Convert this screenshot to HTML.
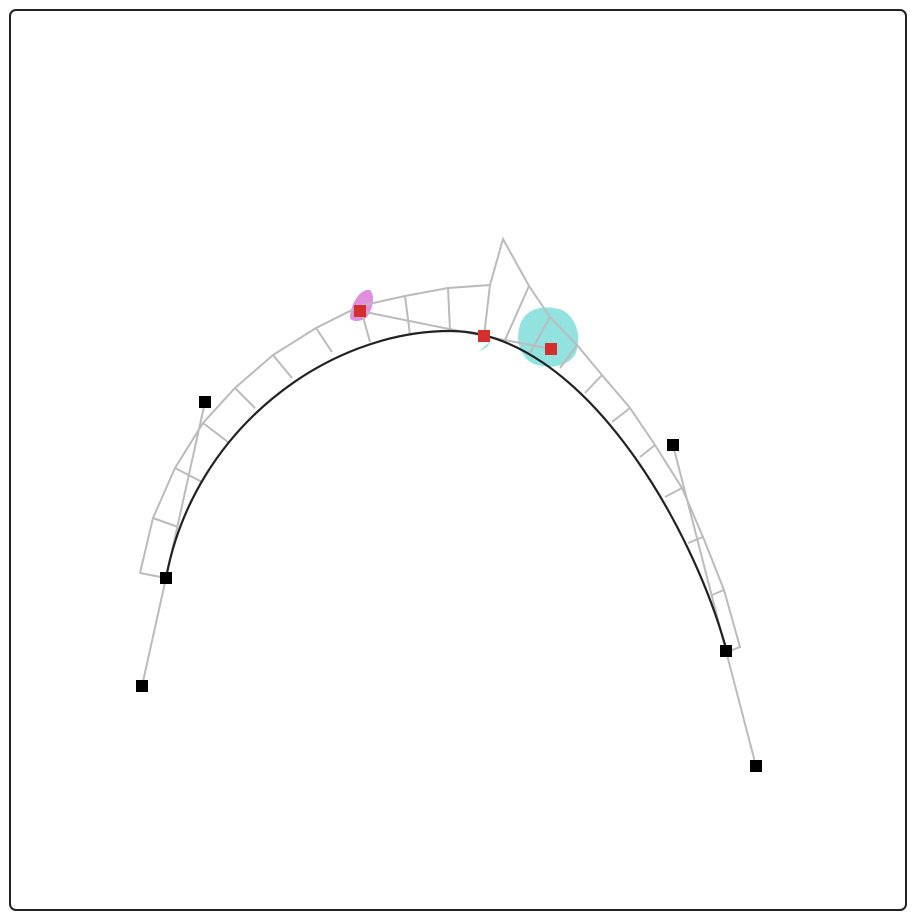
<!DOCTYPE html>
<html><head><meta charset="utf-8"><style>
html,body{margin:0;padding:0;background:#fff}
svg{display:block}
</style></head><body>
<svg width="916" height="915" viewBox="0 0 916 915">
<rect x="10" y="10" width="896" height="900" rx="6" fill="#fff" stroke="#222" stroke-width="2"/>
<g id="g"></g>
</svg>
<script>
const curvePts=[[166,578],[178,527],[202,482],[228,442],[255,408],[292,378],[332,352],[370,342],[410,335],[450,330],[484,336],[505,340],[530,353],[560,368],[585,393],[612,422],[640,457],[665,497],[688,543],[712,595],[727,652]];
const outerPts=[[140,573],[153,518],[175,468],[203,423],[235,388],[273,355],[316,328],[360,306],[405,296],[448,288],[490,285],[503,239],[529,286],[550,317],[577,345],[602,375],[630,408],[655,445],[682,488],[703,537],[724,590],[740,647]];
const ribIdx=[[0,0],[1,1],[2,2],[3,3],[4,4],[5,5],[6,6],[7,7],[8,8],[9,9],[10,10],[11,12],[12,13],[13,14],[14,15],[15,16],[16,17],[17,18],[18,19],[19,20],[20,21]];
const anchors=[[142,686],[166,578],[205,402],[673,445],[726,651],[756,766]];
const redPts=[[360,311],[484,336],[551,349]];
const NS='http://www.w3.org/2000/svg';
const g=document.getElementById('g');
function mk(t,a){const e=document.createElementNS(NS,t);for(const k in a)e.setAttribute(k,a[k]);g.appendChild(e);return e;}
let b=mk('path',{d:'M520,325 C525,308 545,304 562,310 C578,318 582,340 575,355 C566,368 545,370 530,362 C518,352 516,338 520,325 Z',fill:'#92e3e0'});


b=mk('path',{d:'M478,352 L492,340 L487,347 Z',fill:'#92e3e0'});


b=mk('path',{d:'M350,318 C350,305 360,288 370,290 C376,296 372,312 366,318 C360,322 352,322 350,318 Z',fill:'#e08fe0'});


let p=mk('polyline',{points:outerPts.map(q=>q.join(',')).join(' ')+' 727,652',fill:'none',stroke:'#bbb','stroke-width':2});


ribIdx.forEach(r=>{const a=curvePts[r[0]],o=outerPts[r[1]];
const l=mk('line',{x1:a[0],y1:a[1],x2:o[0],y2:o[1],stroke:'#bbb','stroke-width':2});

});
[[0,1,2],[3,4,5]].forEach(h=>{const l=mk('polyline',{points:h.map(i=>anchors[i].join(',')).join(' '),fill:'none',stroke:'#bbb','stroke-width':2});

});
p=mk('polyline',{points:redPts.map(q=>q.join(',')).join(' '),fill:'none',stroke:'#bbb','stroke-width':2});


p=mk('path',{d:'M166,578 C194,428 328,331 450,331 C580,331 692,522 727,652',fill:'none',stroke:'#222','stroke-width':2.2});


anchors.forEach(a=>{const r=mk('rect',{x:a[0]-6,y:a[1]-6,width:12,height:12,fill:'#000'});

});
redPts.forEach(a=>{const r=mk('rect',{x:a[0]-6,y:a[1]-6,width:12,height:12,fill:'#d32f2f'});

});
</script>
</body></html>
